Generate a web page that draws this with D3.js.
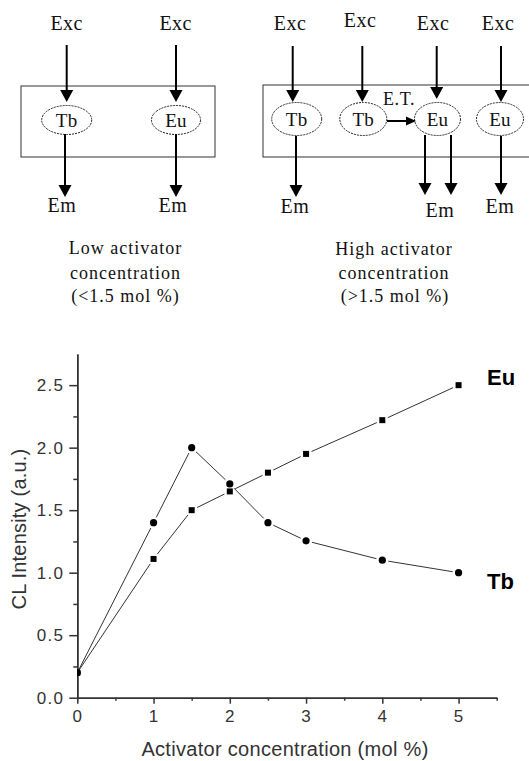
<!DOCTYPE html>
<html>
<head>
<meta charset="utf-8">
<script src="https://cdn.jsdelivr.net/npm/d3@7"></script>
<style>
  body { margin: 0; background: #fff; }
  svg { display: block; }
</style>
</head>
<body>
<div class="container"></div>
<script>
// chart data
const concentration = [0, 1, 1.5, 2, 2.5, 3, 4, 5];
const tbIntensity = [0.2, 1.4, 2.0, 1.71, 1.4, 1.255, 1.1, 1.0];
const euIntensity = [0.2, 1.11, 1.5, 1.65, 1.8, 1.95, 2.22, 2.5];
const xTicks = [0, 1, 2, 3, 4, 5];
const yTicks = [0, 0.5, 1, 1.5, 2, 2.5];
const xMinorTicks = [0.5, 1.5, 2.5, 3.5, 4.5, 5.5];
const yMinorTicks = [0.25, 0.75, 1.25, 1.75, 2.25];

const width = 529;
const height = 761;
const serif = '"Liberation Serif", "Times New Roman", serif';
const sans = '"Liberation Sans", Arial, sans-serif';

const svg = d3.select('.container')
    .append('svg')
    .attr('width', width)
    .attr('height', height);

// ---------- schematic ----------
const diagram = svg.append('g');

const arrow = (x1, y1, x2, y2, len = 12, half = 6.5) => {
    const a = Math.atan2(y2 - y1, x2 - x1);
    const bx = x2 - len * Math.cos(a), by = y2 - len * Math.sin(a);
    diagram.append('line')
        .attr('x1', x1).attr('y1', y1).attr('x2', bx).attr('y2', by)
        .attr('stroke', '#000').attr('stroke-width', 2);
    const px = -Math.sin(a) * half, py = Math.cos(a) * half;
    diagram.append('polygon')
        .attr('points', `${x2},${y2} ${bx + px},${by + py} ${bx - px},${by - py}`)
        .attr('fill', '#000');
};

const label = (x, y, t, size = 20, spacing = 0.5) => {
    diagram.append('text')
        .attr('x', x).attr('y', y)
        .attr('text-anchor', 'middle')
        .attr('font-family', serif)
        .attr('font-size', size)
        .attr('letter-spacing', spacing)
        .attr('fill', '#111')
        .text(t);
};

const ion = (cx, cy, rx, ry, t) => {
    diagram.append('ellipse')
        .attr('cx', cx).attr('cy', cy).attr('rx', rx).attr('ry', ry)
        .attr('fill', '#fff')
        .attr('stroke', '#222')
        .attr('stroke-width', 1)
        .attr('stroke-dasharray', '2,1');
    label(cx, cy + 6.5, t, 19, 0.3);
};

// left: low concentration
diagram.append('rect')
    .attr('x', 21).attr('y', 86).attr('width', 194).attr('height', 71)
    .attr('fill', 'none').attr('stroke', '#333').attr('stroke-width', 1);
label(66.7, 30, 'Exc');
label(175.7, 30, 'Exc');
arrow(66.7, 45, 66.7, 102);
arrow(176, 45, 176, 102);
ion(66.7, 120, 25, 14.5, 'Tb');
ion(176, 120, 24.5, 14.5, 'Eu');
arrow(65, 134, 65, 197);
arrow(176, 134, 176, 197);
label(62, 212, 'Em');
label(173, 212, 'Em');
label(125.5, 254, 'Low activator', 18, 1);
label(125.5, 279, 'concentration', 18, 1);
label(125.5, 302, '(<1.5 mol %)', 18, 1);

// right: high concentration
diagram.append('rect')
    .attr('x', 263).attr('y', 85).attr('width', 300).attr('height', 72)
    .attr('fill', 'none').attr('stroke', '#333').attr('stroke-width', 1);
label(290, 30, 'Exc');
label(360, 27, 'Exc');
label(433, 30, 'Exc');
label(498, 30, 'Exc');
arrow(292.7, 46, 292.7, 102);
arrow(362.3, 46, 362.3, 102);
arrow(436.7, 46, 436.7, 99);
arrow(501, 46, 501, 102);
ion(296.7, 119, 25, 16.5, 'Tb');
ion(363.3, 119, 23.5, 16.5, 'Tb');
ion(437.5, 119, 23, 16.5, 'Eu');
ion(500, 119, 23.5, 16.5, 'Eu');
label(399, 105, 'E.T.', 18, 0.6);
arrow(387, 121, 416, 121, 10, 4.5);
arrow(296, 136, 296, 197);
arrow(425, 135, 425, 195);
arrow(451, 135, 451, 195);
arrow(501, 136, 501, 195);
label(295, 213, 'Em');
label(440, 217, 'Em');
label(500, 213, 'Em');
label(394, 255, 'High activator', 18, 1);
label(394, 279, 'concentration', 18, 1);
label(395, 302, '(>1.5 mol %)', 18, 1);

// ---------- chart ----------
const x = d3.scaleLinear().domain([0, 5.5]).range([77.3, 496.7]);
const y = d3.scaleLinear().domain([0, 2.75]).range([697.7, 353.9]);

const chart = svg.append('g');

const styleAxis = (g) => {
    g.select('.domain').attr('stroke', '#333').attr('stroke-width', 1.5);
    g.selectAll('.tick line').attr('stroke', '#333').attr('stroke-width', 1.5);
    g.selectAll('.tick text')
        .attr('font-family', sans)
        .attr('font-size', 17)
        .attr('letter-spacing', 1.3)
        .attr('fill', '#333');
};

chart.append('g')
    .attr('transform', `translate(0,${y(0)})`)
    .call(d3.axisBottom(x).tickValues(xMinorTicks).tickSize(3).tickSizeOuter(0).tickFormat(''))
    .call(styleAxis);
chart.append('g')
    .attr('transform', `translate(0,${y(0)})`)
    .call(d3.axisBottom(x).tickValues(xTicks).tickSize(6).tickSizeOuter(0).tickPadding(6).tickFormat(d3.format('d')))
    .call(styleAxis);

chart.append('g')
    .attr('transform', `translate(${x(0)},0)`)
    .call(d3.axisLeft(y).tickValues(yMinorTicks).tickSize(4).tickSizeOuter(0).tickFormat(''))
    .call(styleAxis);
chart.append('g')
    .attr('transform', `translate(${x(0)},0)`)
    .call(d3.axisLeft(y).tickValues(yTicks).tickSize(8).tickSizeOuter(0).tickPadding(5).tickFormat(d3.format('.1f')))
    .call(styleAxis);

chart.append('text')
    .attr('x', 285)
    .attr('y', 756)
    .attr('text-anchor', 'middle')
    .attr('font-family', sans)
    .attr('font-size', 20)
    .attr('letter-spacing', 0.3)
    .attr('fill', '#333')
    .text('Activator concentration (mol %)');

chart.append('text')
    .attr('transform', 'translate(26,529) rotate(-90)')
    .attr('text-anchor', 'middle')
    .attr('font-family', sans)
    .attr('font-size', 20)
    .attr('letter-spacing', 0.2)
    .attr('fill', '#333')
    .text('CL Intensity (a.u.)');

svg.append('clipPath').attr('id', 'plot')
    .append('rect')
    .attr('x', x(0)).attr('y', y(2.75))
    .attr('width', x(5.5) - x(0)).attr('height', y(0) - y(2.75));

const series = [
    { name: 'Tb', values: tbIntensity, shape: 'circle' },
    { name: 'Eu', values: euIntensity, shape: 'square' }
];
const gap = 6;

series.forEach(s => {
    const pts = concentration.map((c, i) => [x(c), y(s.values[i])]);
    const g = chart.append('g').attr('clip-path', 'url(#plot)');
    d3.pairs(pts).forEach(([a, b], i) => {
        const dx = b[0] - a[0], dy = b[1] - a[1];
        const len = Math.hypot(dx, dy);
        const g0 = i === 0 ? 1 : gap;
        g.append('line')
            .attr('x1', a[0] + dx / len * g0).attr('y1', a[1] + dy / len * g0)
            .attr('x2', b[0] - dx / len * gap).attr('y2', b[1] - dy / len * gap)
            .attr('stroke', '#333').attr('stroke-width', 1);
    });
    if (s.shape === 'circle') {
        g.selectAll('circle').data(pts).enter().append('circle')
            .attr('cx', d => d[0]).attr('cy', d => d[1]).attr('r', 3.6)
            .attr('fill', '#000');
    } else {
        g.selectAll('rect').data(pts).enter().append('rect')
            .attr('x', d => d[0] - 3).attr('y', d => d[1] - 3)
            .attr('width', 6).attr('height', 6)
            .attr('fill', '#000');
    }
    chart.append('text')
        .attr('x', 487)
        .attr('y', y(s.values[s.values.length - 1]) + (s.name === 'Eu' ? 0 : 16))
        .attr('font-family', sans)
        .attr('font-size', 22)
        .attr('font-weight', 'bold')
        .attr('fill', '#000')
        .text(s.name);
});
</script>
</body>
</html>
